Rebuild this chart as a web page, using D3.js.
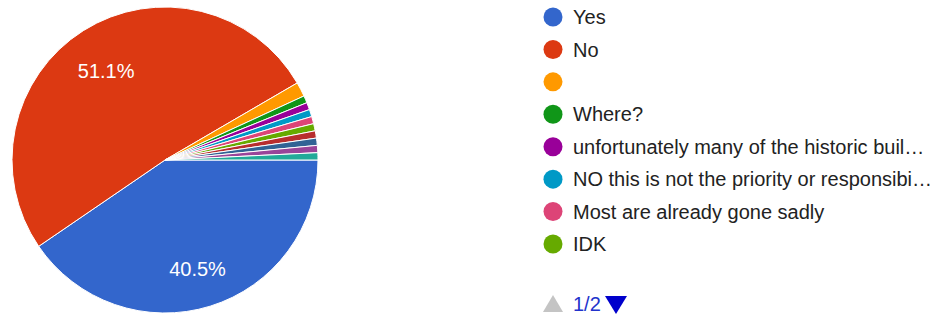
<!DOCTYPE html>
<html>
<head>
<meta charset="utf-8">
<script src="https://d3js.org/d3.v7.min.js"></script>
<style>
  body { margin: 0; background: #fff; font-family: "Liberation Sans", Arial, sans-serif; }
  svg text { font-family: "Liberation Sans", Arial, sans-serif; }
</style>
</head>
<body>
<svg id="chart" width="944" height="318"></svg>
<script>
// responses (page 1 of legend shows first 8; the rest are on page 2)
const labels = ["Yes", "No", "", "Where?",
  "unfortunately many of the historic buil\u2026",
  "NO this is not the priority or responsibi\u2026",
  "Most are already gone sadly", "IDK",
  "(page 2) a", "(page 2) b", "(page 2) c", "(page 2) d"];
const counts = [53, 67, 2, 1, 1, 1, 1, 1, 1, 1, 1, 1];
const colors = ["#3366cc", "#dc3912", "#ff9900", "#109618", "#990099", "#0099c6",
  "#dd4477", "#66aa00", "#b82e2e", "#316395", "#994499", "#22aa99"];
const legendShown = 8;

const svg = d3.select("#chart");
const cx = 165, cy = 160, r = 153;
const total = d3.sum(counts);

// start at 3 o'clock, go clockwise
const pie = d3.pie().sort(null)
  .startAngle(Math.PI / 2).endAngle(Math.PI / 2 + 2 * Math.PI);
const arcs = pie(counts);
const arc = d3.arc().innerRadius(0).outerRadius(r);
const labelArc = d3.arc().innerRadius(r * 0.72).outerRadius(r * 0.72);

const g = svg.append("g").attr("transform", `translate(${cx},${cy})`);

g.selectAll("path")
  .data(arcs)
  .enter()
  .append("path")
  .attr("d", arc)
  .attr("fill", (d, i) => colors[i])
  .attr("stroke", "#fff")
  .attr("stroke-width", 1);

g.selectAll("text.pct")
  .data(arcs.filter(d => d.value / total > 0.05))
  .enter()
  .append("text")
  .attr("class", "pct")
  .attr("transform", d => `translate(${labelArc.centroid(d)})`)
  .attr("text-anchor", "middle")
  .attr("dy", "0.55em")
  .attr("fill", "#fff")
  .style("font-size", "20px")
  .text(d => (d.value / total * 100).toFixed(1) + "%");

// legend
const legendY = d3.scalePoint()
  .domain(d3.range(legendShown))
  .range([17, 244]);

const legend = svg.selectAll(".legend")
  .data(labels.slice(0, legendShown))
  .enter()
  .append("g")
  .attr("class", "legend")
  .attr("transform", (d, i) => `translate(553,${legendY(i)})`);

legend.append("circle")
  .attr("r", 9.5)
  .attr("fill", (d, i) => colors[i]);

legend.append("text")
  .attr("x", 20)
  .attr("dy", "0.36em")
  .attr("fill", "#222")
  .style("font-size", "20px")
  .text(d => d);

// pager
const pager = svg.append("g").attr("transform", "translate(553,304)");
pager.append("path")
  .attr("d", "M-10,8 L10,8 L0,-9 Z")
  .attr("fill", "#c4c4c4");
pager.append("text")
  .attr("x", 20)
  .attr("dy", "0.36em")
  .attr("fill", "#2233cc")
  .style("font-size", "20px")
  .text("1/2");
pager.append("path")
  .attr("d", "M52,-8 L74,-8 L63,10 Z")
  .attr("fill", "#0000cc");
</script>
</body>
</html>
